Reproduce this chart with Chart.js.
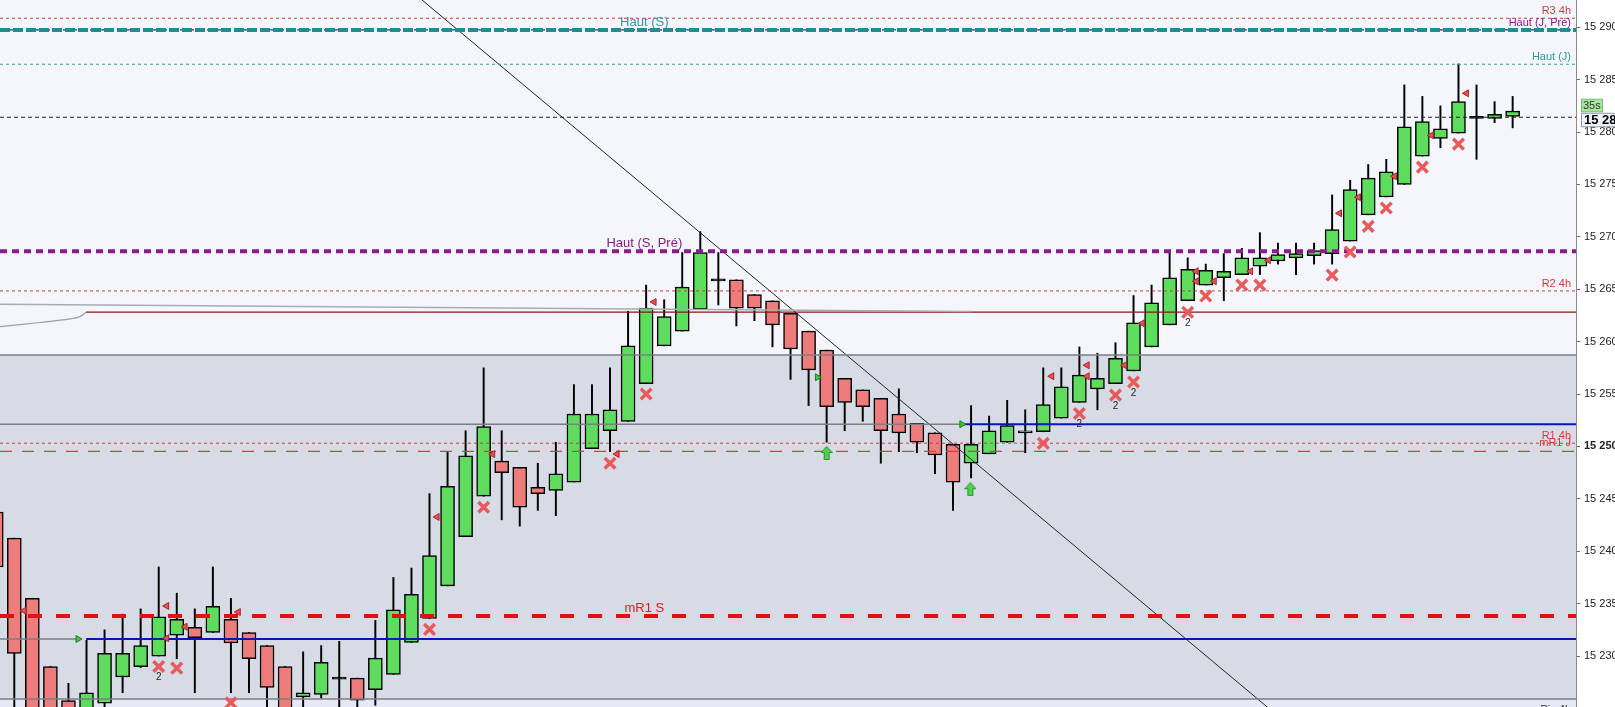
<!DOCTYPE html>
<html>
<head>
<meta charset="utf-8">
<script src="https://cdn.jsdelivr.net/npm/chart.js@4.4.1/dist/chart.umd.min.js"></script>
<style>
html, body { margin: 0; padding: 0; background: #fff; }
#cadre { width: 1615px; height: 707px; position: relative; }
</style>
</head>
<body>
<div id="cadre"><canvas id="graphique"></canvas></div>
<script>
// bougies (une par barre, de gauche a droite)
var ouv = [15243.75, 15241.25, 15235.5, 15229, 15225.75, 15223, 15225.5, 15228, 15229, 15230,
  15232, 15232.75, 15232.25, 15233.5, 15232.25, 15231, 15229, 15226.1, 15226.35, 15227.9,
  15227.9, 15226.8, 15228.25, 15231.3, 15233.6, 15236.7, 15241.4, 15245.25, 15248.6, 15248,
  15246.1, 15245.8, 15246.6, 15249.8, 15251.5, 15252.4, 15256, 15259.6, 15261, 15263.1,
  15265.9, 15265.9, 15264.5, 15263.9, 15262.7, 15261, 15259.2, 15256.5, 15255.4, 15254.6,
  15253.1, 15252.2, 15251.3, 15250.2, 15248.4, 15249.3, 15250.4, 15251.3, 15251.4, 15252.7,
  15254.2, 15255.5, 15256, 15257.2, 15259.5, 15261.6, 15263.9, 15265.4, 15266.1, 15266.4,
  15267.2, 15267.7, 15268, 15268.2, 15268.4, 15269.6, 15272.1, 15273.8, 15275, 15277.7,
  15279.4, 15279.9, 15281.4, 15281.3, 15281.5];
var clot = [15238.5, 15230.25, 15223.5, 15222, 15222, 15226.5, 15230.25, 15230.25, 15231, 15233.75,
  15233.5, 15231.75, 15234.75, 15231.25, 15229.75, 15227, 15222, 15226.5, 15229.4, 15227.9,
  15225.8, 15229.8, 15234.4, 15235.9, 15239.6, 15246.2, 15249.1, 15251.9, 15247.5, 15244.2,
  15245.5, 15247.4, 15253.1, 15253.1, 15253.5, 15259.6, 15263.2, 15262.4, 15265.2, 15268.5,
  15265.9, 15263.2, 15263.2, 15261.6, 15259.3, 15257.3, 15253.8, 15254.2, 15253.8, 15251.5,
  15251.3, 15250.4, 15249.2, 15246.6, 15250.2, 15251.5, 15252, 15251.5, 15254, 15255.7,
  15256.8, 15256.5, 15258.4, 15261.8, 15263.7, 15266.1, 15266.9, 15266.8, 15266.7, 15268,
  15268, 15268.3, 15268.4, 15268.7, 15270.7, 15274.5, 15275.6, 15276.2, 15280.5, 15281,
  15280.3, 15282.9, 15281.4, 15281.7, 15282];
var haut = [15243.75, 15241.25, 15235.5, 15229, 15227.4, 15231.5, 15232.5, 15234, 15234.5, 15238.5,
  15236, 15234.5, 15238.5, 15235.5, 15232.25, 15231, 15229, 15230.4, 15231, 15231.4,
  15227.9, 15233.4, 15237.5, 15238.4, 15245.5, 15249.5, 15251.5, 15257.5, 15251.5, 15248,
  15248.4, 15250.4, 15255.9, 15255.9, 15257.5, 15262.9, 15265.4, 15264, 15268.5, 15270.5,
  15268.5, 15265.9, 15264.5, 15263.9, 15262.7, 15261, 15259.2, 15256.5, 15255.4, 15254.6,
  15255.5, 15252.2, 15251.3, 15250.2, 15253.9, 15252.9, 15254.4, 15253.5, 15257.5, 15257.5,
  15259.5, 15258.9, 15259.9, 15264.4, 15265.4, 15268.5, 15268, 15267.4, 15268.4, 15268.9,
  15270.4, 15269.4, 15269.4, 15269.4, 15274, 15275.4, 15276.9, 15277.4, 15284.5, 15283.4,
  15282.5, 15286.5, 15284.5, 15282.9, 15283.4];
var bas = [15238.5, 15223, 15222, 15221, 15221, 15222, 15225, 15226.5, 15228.9, 15230,
  15229.75, 15226.5, 15232.25, 15226.5, 15226.5, 15223, 15221, 15223, 15226, 15222,
  15222, 15225.3, 15228.25, 15231.3, 15233.6, 15236.7, 15241.4, 15245.25, 15243, 15242.4,
  15243.9, 15243.4, 15246.6, 15249.8, 15249.5, 15252.4, 15256, 15259.6, 15261, 15263.1,
  15263.5, 15261.5, 15262, 15259.5, 15256.4, 15253.9, 15250.4, 15251.5, 15252.4, 15248.4,
  15249.5, 15249.4, 15247.4, 15243.9, 15247, 15249.3, 15250.4, 15249.4, 15251.4, 15252.7,
  15254.2, 15253.5, 15256, 15257.2, 15259.5, 15261.6, 15263.9, 15265.4, 15263.9, 15266.4,
  15266.4, 15267.4, 15266.4, 15267.4, 15267.4, 15269.6, 15272.1, 15273.8, 15275, 15277.7,
  15278.5, 15279.9, 15277.4, 15280.9, 15280.4];

// niveaux horizontaux
var niveauxNoms = ['R3 4h', 'Haut (S)', 'Haut (J, Pré)', 'Haut (J)', 'Prix', 'Haut (S, Pré)', 'R2 4h', 'R1 4h', 'mR1 J', 'mR1 S', 'Piv 4h'];
var niveauxValeurs = [15290.86, 15289.74, 15289.74, 15286.47, 15281.41, 15268.63, 15264.84, 15250.31, 15249.54, 15233.83, 15224.2];

// lignes grises / bleues / rouge fonce (debut, fin en index de bougie)
var zonesBornes = [15258.73, 15225.9];
var grisHautDebut = [0.2, 15263.57], grisHautFin = [54.0, 15262.88];
var rougeFonce = [4.97, 15262.81];
var courbeX = [0.2, 2.42, 4.09, 4.64, 4.97];
var courbeY = [15261.43, 15261.83, 15262.17, 15262.39, 15262.81];
var bleuHaut = [53.49, 15252.12];
var bleuBas = [4.53, 15231.63];
var oblique = [[20, 15297.77], [75, 15218.52]];

// signaux
var croixX = [9, 10, 13, 24, 27, 34, 36, 58, 60, 62, 63, 66, 67, 69, 70, 74, 75, 76, 77, 79, 81];
var croixY = [15229.0, 15228.85, 15225.55, 15232.55, 15244.2, 15248.4, 15255.0, 15250.3, 15253.15, 15254.9,
  15256.15, 15262.8, 15264.35, 15265.4, 15265.4, 15266.35, 15268.55, 15271.0, 15272.75, 15276.65, 15278.85];
var croixDeux = [9, 60, 62, 63, 66];
var triRougeX = [1.54, 9.44, 9.44, 10.46, 13.41, 24.42, 27.5, 34.39, 36.44, 58.47, 60.43, 60.43, 62.5, 63.49,
  66.47, 66.47, 67.47, 69.48, 70.47, 74.41, 75.46, 77.45, 79.5, 81.44];
var triRougeY = [15234.33, 15234.78, 15231.7, 15232.8, 15234.2, 15243.27, 15249.26, 15249.28, 15263.79, 15256.7,
  15257.75, 15256.7, 15257.75, 15261.76, 15266.72, 15265.76, 15265.76, 15266.72, 15267.77, 15272.25, 15273.78,
  15275.78, 15279.69, 15283.7];
var triVertX = [4.53, 45.49, 53.49];
var triVertY = [15231.63, 15256.6, 15252.12];
var flecheX = [46.0, 53.96];
var flecheY = [15249.38, 15245.92];

var xMin = 0.208, xMax = 87.51;
var police = "'Liberation Sans', Arial, sans-serif";

function espaces(v) {
  return String(v).replace(/\B(?=(\d{3})+(?!\d))/g, ' ');
}

function pts(xx, yy) {
  var r = [];
  for (var i = 0; i < xx.length; i++) r.push({x: xx[i], y: yy[i]});
  return r;
}

function ligne(data, couleur, ep, tirets, ordre, tension) {
  return {
    type: 'line', data: data, borderColor: couleur, borderWidth: ep,
    borderDash: tirets || [], pointRadius: 0, tension: tension || 0,
    order: ordre || 5, fill: false
  };
}

function niveau(nom) {
  return niveauxValeurs[niveauxNoms.indexOf(nom)];
}

function horiz(nom, couleur, ep, tirets) {
  var v = niveau(nom);
  return ligne([{x: xMin, y: v}, {x: xMax, y: v}], couleur, ep, tirets, 5);
}

function fleche() {
  var c = document.createElement('canvas');
  c.width = 12; c.height = 14;
  var g = c.getContext('2d');
  g.beginPath();
  g.moveTo(6, 0.5); g.lineTo(11.5, 6.5); g.lineTo(8.5, 6.5); g.lineTo(8.5, 13.5);
  g.lineTo(3.5, 13.5); g.lineTo(3.5, 6.5); g.lineTo(0.5, 6.5); g.closePath();
  g.fillStyle = '#4fd04f'; g.fill();
  g.strokeStyle = '#2d8f2d'; g.lineWidth = 1; g.stroke();
  return c;
}

var corps = [], meches = [];
for (var k = 0; k < ouv.length; k++) {
  var o = ouv[k], c = clot[k];
  if (Math.abs(o - c) < 0.05) corps.push({x: k, y: [o - 0.1, o + 0.1]});
  else corps.push({x: k, y: [Math.min(o, c), Math.max(o, c)]});
  meches.push({x: k, y: [bas[k], haut[k]]});
}

var fondPlugin = {
  id: 'fond',
  beforeDatasetsDraw: function(chart) {
    var ctx = chart.ctx, a = chart.chartArea, ys = chart.scales.y;
    var y1 = ys.getPixelForValue(zonesBornes[0]);
    var y2 = ys.getPixelForValue(zonesBornes[1]);
    ctx.save();
    ctx.fillStyle = '#f4f6fc';
    ctx.fillRect(a.left, a.top, a.right - a.left, y1 - a.top);
    ctx.fillStyle = '#d6dbe6';
    ctx.fillRect(a.left, y1, a.right - a.left, y2 - y1);
    ctx.fillStyle = '#e4e9f5';
    ctx.fillRect(a.left, y2, a.right - a.left, a.bottom - y2);
    ctx.restore();
  }
};

var textesPlugin = {
  id: 'textes',
  afterDatasetsDraw: function(chart) {
    var ctx = chart.ctx, a = chart.chartArea, ys = chart.scales.y, xs = chart.scales.x;
    ctx.save();
    ctx.beginPath();
    ctx.rect(a.left, a.top, a.right - a.left, a.bottom - a.top);
    ctx.clip();
    ctx.textBaseline = 'middle';
    // etiquettes a droite
    var droite = [['R3 4h', '#dd3535'], ['Haut (J, Pré)', '#8b1a8b'], ['Haut (J)', '#2a9d9d'],
      ['R2 4h', '#dd3535'], ['R1 4h', '#dd3535'], ['mR1 J', '#dd3535'], ['Piv 4h', '#333']];
    ctx.font = '11px ' + police;
    ctx.textAlign = 'right';
    droite.forEach(function(d) {
      var y = ys.getPixelForValue(niveau(d[0])) - 7;
      if (d[0] === 'mR1 J') y -= 1;
      ctx.fillStyle = d[1];
      ctx.fillText(d[0], a.right - 5, y);
    });
    // etiquettes au centre
    var centre = [['Haut (S)', '#2a9d9d'], ['Haut (S, Pré)', '#8b1a8b'], ['mR1 S', '#e01a1a']];
    ctx.font = '13px ' + police;
    ctx.textAlign = 'center';
    var xc = xs.getPixelForValue(35.9);
    centre.forEach(function(d) {
      ctx.fillStyle = d[1];
      ctx.fillText(d[0], xc, ys.getPixelForValue(niveau(d[0])) - 8);
    });
    // petits "2" sous les croix
    ctx.font = '10px ' + police;
    ctx.fillStyle = '#222';
    croixDeux.forEach(function(i) {
      var j = croixX.indexOf(i);
      ctx.fillText('2', xs.getPixelForValue(i), ys.getPixelForValue(croixY[j]) + 11);
    });
    ctx.restore();

    // etiquettes sur l'axe
    var yp = ys.getPixelForValue(niveau('Prix'));
    ctx.save();
    ctx.fillStyle = '#a9e5a1';
    ctx.strokeStyle = '#6cc46c';
    ctx.lineWidth = 1;
    ctx.fillRect(a.right + 5.5, yp - 18, 21, 12.5);
    ctx.strokeRect(a.right + 5.5, yp - 18, 21, 12.5);
    ctx.fillStyle = '#333';
    ctx.font = '11px ' + police;
    ctx.textAlign = 'left';
    ctx.textBaseline = 'middle';
    ctx.fillText('35s', a.right + 7, yp - 11.5);
    ctx.fillStyle = '#eef3fb';
    ctx.strokeStyle = '#8898b4';
    ctx.fillRect(a.right + 5.5, yp - 4, 40, 13.5);
    ctx.strokeRect(a.right + 5.5, yp - 4, 40, 13.5);
    ctx.fillStyle = '#000';
    ctx.font = 'bold 13px ' + police;
    ctx.fillText('15 281', a.right + 8, yp + 3);
    ctx.restore();
  }
};

var vert = '#5ddc5d', rouge = '#ef7c7c';

new Chart(document.getElementById('graphique'), {
  type: 'bar',
  data: {
    datasets: [
      {
        type: 'bar', data: meches, backgroundColor: '#000', borderWidth: 0,
        barThickness: 1.3, grouped: false, order: 20
      },
      {
        type: 'bar', data: corps, grouped: false, order: 19,
        barThickness: 14, borderWidth: 1.5, borderColor: '#000', borderSkipped: false,
        backgroundColor: function(ctx) {
          var i = ctx.dataIndex;
          if (Math.abs(ouv[i] - clot[i]) < 0.05) return '#000';
          return clot[i] > ouv[i] ? vert : rouge;
        }
      },
      horiz('R3 4h', '#d23c3c', 1, [3, 3]),
      horiz('Haut (S)', '#1e8e92', 4, [10, 3]),
      horiz('Haut (J, Pré)', '#6a1a7a', 1.2, [5, 4]),
      horiz('Haut (J)', '#2e9c9c', 1, [3, 3]),
      horiz('Prix', '#222', 1.2, [4, 3]),
      horiz('Haut (S, Pré)', '#8b1a8b', 4, [7, 5]),
      horiz('R2 4h', '#d23c3c', 1, [3, 3]),
      horiz('R1 4h', '#d23c3c', 1, [3, 3]),
      horiz('mR1 J', '#e03a3a', 1.2, [12, 10]),
      horiz('mR1 S', '#e41010', 4, [14, 14]),
      ligne([{x: grisHautDebut[0], y: grisHautDebut[1]}, {x: grisHautFin[0], y: grisHautFin[1]}], '#a8abb3', 1.5),
      ligne([{x: rougeFonce[0], y: rougeFonce[1]}, {x: xMax, y: rougeFonce[1]}], '#8b1414', 1.2),
      ligne(pts(courbeX, courbeY), '#9a9ea6', 1.2, [], 5, 0.4),
      ligne([{x: xMin, y: zonesBornes[0]}, {x: xMax, y: zonesBornes[0]}], '#7b7e86', 1.5),
      ligne([{x: xMin, y: zonesBornes[1]}, {x: xMax, y: zonesBornes[1]}], '#7b7e86', 1.5),
      ligne([{x: xMin, y: bleuHaut[1]}, {x: bleuHaut[0], y: bleuHaut[1]}], '#7b7e86', 1.5),
      ligne([{x: bleuHaut[0], y: bleuHaut[1]}, {x: xMax, y: bleuHaut[1]}], '#0a14c0', 2),
      ligne([{x: xMin, y: bleuBas[1]}, {x: bleuBas[0], y: bleuBas[1]}], '#7b7e86', 1.5),
      ligne([{x: bleuBas[0] + 0.45, y: bleuBas[1]}, {x: xMax, y: bleuBas[1]}], '#0a14c0', 2),
      ligne([{x: oblique[0][0], y: oblique[0][1]}, {x: oblique[1][0], y: oblique[1][1]}], '#222', 1),
      {
        type: 'scatter', data: pts(croixX, croixY), pointStyle: 'crossRot', pointRadius: 7.5,
        borderColor: '#e85a5c', borderWidth: 3.5, order: 1
      },
      {
        type: 'scatter', data: pts(triRougeX, triRougeY), pointStyle: 'triangle', rotation: -90,
        pointRadius: 4, backgroundColor: '#e85050', borderColor: '#a82828', borderWidth: 1, order: 1
      },
      {
        type: 'scatter', data: pts(triVertX, triVertY), pointStyle: 'triangle', rotation: 90,
        pointRadius: 4, backgroundColor: '#3fc43f', borderColor: '#1f7f1f', borderWidth: 1, order: 1
      },
      {
        type: 'scatter', data: pts(flecheX, flecheY), pointStyle: fleche(), pointRadius: 7, order: 1
      }
    ]
  },
  options: {
    responsive: true,
    maintainAspectRatio: false,
    animation: false,
    events: [],
    layout: { padding: 0, autoPadding: false },
    plugins: { legend: { display: false }, tooltip: { enabled: false } },
    scales: {
      x: {
        type: 'linear', display: false, min: xMin, max: xMax, offset: false
      },
      y: {
        position: 'right', min: 15225.14, max: 15292.6,
        afterFit: function(s) { s.width = 39; s.paddingTop = 0; s.paddingBottom = 0; },
        ticks: {
          stepSize: 5, maxTicksLimit: 30, includeBounds: false, padding: 4, color: '#222',
          font: function(ctx) {
            var gras = ctx.tick && ctx.tick.value === 15250;
            return { family: police, size: 11, weight: gras ? 'bold' : 'normal' };
          },
          callback: function(v) { return espaces(v); }
        },
        grid: { drawOnChartArea: false, tickLength: 4, color: '#666' },
        border: { color: '#8a8a8a' }
      }
    }
  },
  plugins: [fondPlugin, textesPlugin]
});
</script>
</body>
</html>
